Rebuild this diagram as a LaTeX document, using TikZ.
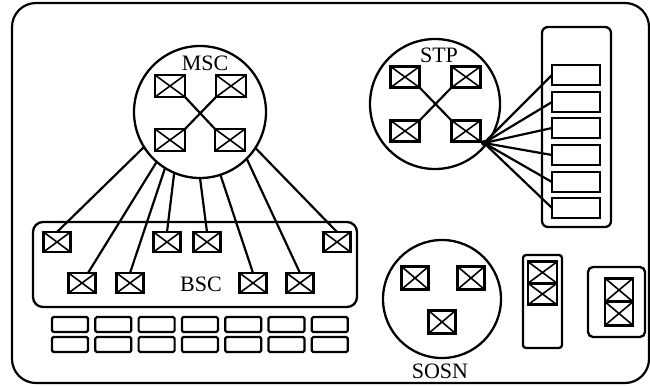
\documentclass[tikz,border=0pt]{standalone}
\usepackage{fontspec}
\setmainfont{Liberation Serif}
\begin{document}
\begin{tikzpicture}[x=1pt,y=-1pt,
  every node/.style={inner sep=0pt,outer sep=0pt},
  ln/.style={line width=2.2pt},
  ring/.style={draw,circle,line width=2.3pt},
  sw/.style={draw,line width=2.8pt,minimum width=28pt,minimum height=21pt,
    path picture={\draw[line width=1.6pt]
      (path picture bounding box.south west) -- (path picture bounding box.north east)
      (path picture bounding box.north west) -- (path picture bounding box.south east);}},
  slot/.style={draw,line width=2.2pt,rounded corners=1.5pt,minimum width=36pt,minimum height=15pt},
  pslot/.style={draw,line width=2.2pt,minimum width=48pt,minimum height=20pt},
  lbl/.style={font=\fontsize{22}{24}\selectfont}
]
\useasboundingbox (0,0) rectangle (650,386);
% outer frame
\draw[ln,rounded corners=24pt] (12,3) rectangle (649,383);

% MSC
\node[ring,minimum size=132pt] (msc) at (200,112) {};
\node[lbl] (msclbl) at (205,63) {MSC};
\node[sw,minimum width=30pt,minimum height=22pt] (m1) at (170,86) {};
\node[sw,minimum width=30pt,minimum height=22pt] (m2) at (231,86) {};
\node[sw,minimum width=30pt,minimum height=22pt] (m3) at (170,140) {};
\node[sw,minimum width=30pt,minimum height=22pt] (m4) at (230,140) {};
\draw[ln] (m1.south east) -- (m4.north west);
\draw[ln] (m2.south west) -- (m3.north east);

% BSC
\node[draw,line width=2.3pt,rounded corners=10pt,minimum width=324pt,minimum height=85pt] (bsc) at (195,264.5) {};
\node[lbl] (bsclbl) at (201,284) {BSC};
\node[sw,minimum width=27pt,minimum height=20pt] (b1) at (57,242) {};
\node[sw,minimum width=27pt,minimum height=20pt] (b4) at (167,242) {};
\node[sw,minimum width=27pt,minimum height=20pt] (b5) at (207,242) {};
\node[sw,minimum width=27pt,minimum height=20pt] (b8) at (337,242) {};
\node[sw,minimum width=27pt,minimum height=20pt] (b2) at (82,283) {};
\node[sw,minimum width=27pt,minimum height=20pt] (b3) at (130,283) {};
\node[sw,minimum width=27pt,minimum height=20pt] (b6) at (253,283) {};
\node[sw,minimum width=27pt,minimum height=20pt] (b7) at (300,283) {};
\draw[ln] (msc.-148.7) -- (b1.north);
\draw[ln] (msc.-131.7) -- ([xshift=6pt]b2.north);
\draw[ln] (msc.-122.7) -- (b3.north);
\draw[ln] (msc.-113.7) -- (b4.north);
\draw[ln] (msc.-90) -- (b5.north);
\draw[ln] (msc.-72.4) -- (b6.north);
\draw[ln] (msc.-45.6) -- (b7.north);
\draw[ln] (msc.-33) -- (b8.north);

% slots under BSC
\foreach \i in {0,...,6}{
  \node[slot] (ua\i) at ({70+43.3*\i},324.5) {};
  \node[slot] (la\i) at ({70+43.3*\i},344.5) {};
}

% STP
\node[ring,minimum size=130pt] (stp) at (435,104) {};
\node[lbl] (stplbl) at (439,55) {STP};
\node[sw,minimum width=29pt,minimum height=21pt] (s1) at (405,77) {};
\node[sw,minimum width=29pt,minimum height=21pt] (s2) at (466,77) {};
\node[sw,minimum width=29pt,minimum height=21pt] (s3) at (405,131) {};
\node[sw,minimum width=29pt,minimum height=21pt] (s4) at (466,131) {};
\draw[ln] (s1.south east) -- (s4.north west);
\draw[ln] (s2.south west) -- (s3.north east);
\coordinate (fp) at (484,143);

% point-code column
\node[draw,line width=2.3pt,rounded corners=6pt,minimum width=69pt,minimum height=200pt] (col) at (576.5,127) {};
\foreach \y [count=\k] in {75,102,128,155,182,208}{
  \node[pslot] (p\k) at (576,\y) {};
  \draw[ln] (fp) -- (p\k.west);
}
\fill (fp) circle (3pt);

% SOSN
\node[ring,minimum size=118pt] (sosn) at (442,299) {};
\node[lbl] (sosnlbl) at (440,371) {SOSN};
\node[sw,minimum width=27pt,minimum height=23pt] (o1) at (415,278) {};
\node[sw,minimum width=27pt,minimum height=23pt] (o2) at (471,278) {};
\node[sw,minimum width=27pt,minimum height=23pt] (o3) at (442,322) {};

% tall unit
\node[draw,line width=2.3pt,rounded corners=3pt,minimum width=39pt,minimum height=93pt] (tall) at (542.5,301.5) {};
\node[sw,minimum width=29pt,minimum height=21.5pt] (t1) at (542.5,272.5) {};
\node[sw,minimum width=29pt,minimum height=21.5pt] (t2) at (542.5,294) {};

% square unit
\node[draw,line width=2.3pt,rounded corners=5pt,minimum width=57pt,minimum height=70pt] (sq) at (616.5,302) {};
\node[sw,minimum width=28pt,minimum height=23.5pt] (r1) at (619,290) {};
\node[sw,minimum width=28pt,minimum height=23.5pt] (r2) at (619,313.5) {};
\end{tikzpicture}
\end{document}
